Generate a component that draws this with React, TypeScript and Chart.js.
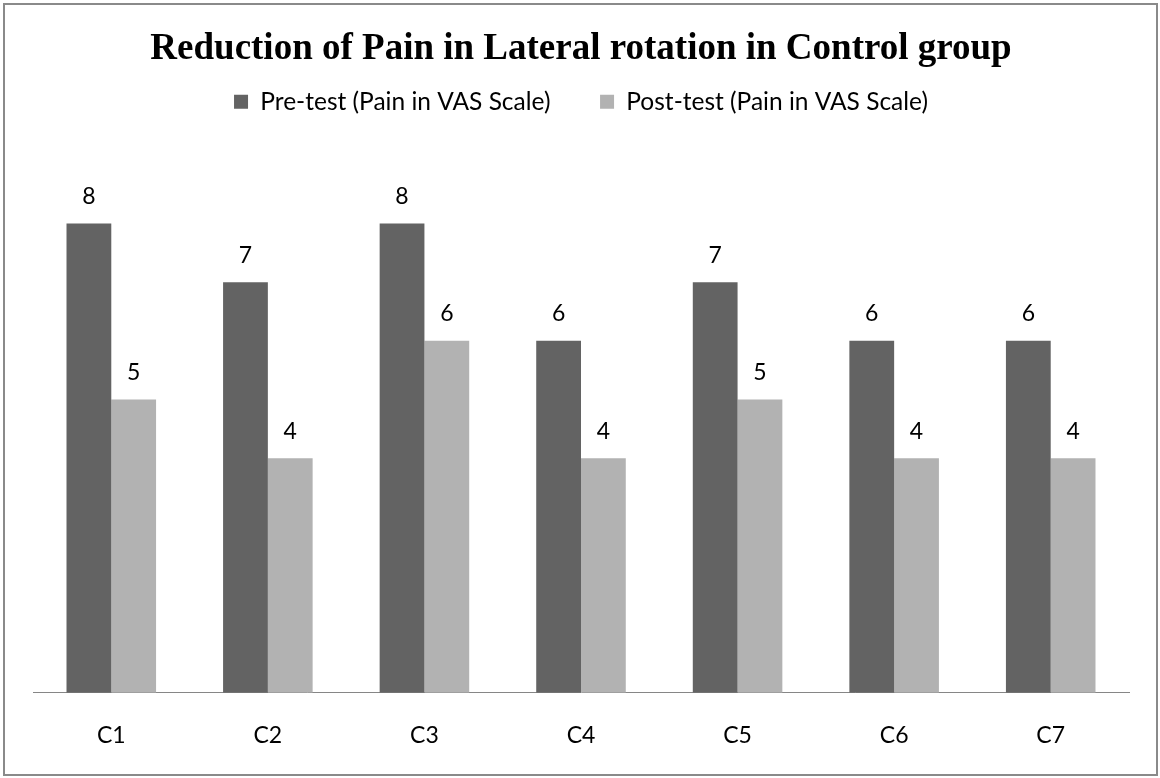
import React, { useEffect, useRef } from "react";
import { Chart, registerables } from "chart.js";

Chart.register(...registerables);

const categories = ["C1", "C2", "C3", "C4", "C5", "C6", "C7"];
const preTest = [8, 7, 8, 6, 7, 6, 6];
const postTest = [5, 4, 6, 4, 5, 4, 4];
const seriesLabels = ["Pre-test (Pain in VAS Scale)", "Post-test (Pain in VAS Scale)"];
const titleText = "Reduction of Pain in Lateral rotation in Control group";

const SANS = "Lato, 'Open Sans', sans-serif";

const valueLabels = {
  id: "valueLabels",
  afterDatasetsDraw(chart: any) {
    const ctx = chart.ctx;
    ctx.save();
    ctx.font = `23px ${SANS}`;
    ctx.fillStyle = "#000";
    ctx.textAlign = "center";
    ctx.textBaseline = "middle";
    chart.data.datasets.forEach((ds: any, i: number) => {
      const meta = chart.getDatasetMeta(i);
      meta.data.forEach((el: any, j: number) => {
        ctx.fillText(String(ds.data[j]), el.x, el.y - 27);
      });
    });
    ctx.restore();
  },
};

export default function App() {
  const ref = useRef<HTMLCanvasElement | null>(null);
  useEffect(() => {
    if (!ref.current) return;
    const chart = new Chart(ref.current, {
      type: "bar",
      data: {
        labels: categories,
        datasets: [
          {
            label: seriesLabels[0],
            data: preTest,
            backgroundColor: "#636363",
            borderWidth: 0,
          },
          {
            label: seriesLabels[1],
            data: postTest,
            backgroundColor: "#b2b2b2",
            borderWidth: 0,
          },
        ],
      },
      options: {
        responsive: false,
        animation: false,
        devicePixelRatio: 1,
        layout: { padding: { left: 33, right: 31, top: 0, bottom: 29 } },
        datasets: {
          bar: { categoryPercentage: 0.572, barPercentage: 1 },
        },
        plugins: {
          title: {
            display: true,
            text: titleText,
            color: "#000",
            font: { family: "'Liberation Serif', 'Times New Roman', serif", size: 37, weight: "bold", lineHeight: 1.2 },
            padding: { top: 27, bottom: 6 },
          },
          legend: {
            display: true,
            position: "top",
            labels: {
              color: "#000",
              font: { family: SANS, size: 24.5 },
              boxWidth: 14,
              boxHeight: 14,
              padding: 12,
              generateLabels(c: any) {
                const items = Chart.defaults.plugins.legend.labels.generateLabels(c);
                items.forEach((it: any, idx: number) => {
                  it.lineWidth = 0;
                  if (idx === 0) it.text = it.text + "      ";
                });
                return items;
              },
            },
          },
          tooltip: { enabled: false },
        },
        scales: {
          x: {
            grid: { display: false, drawTicks: false },
            border: { display: true, color: "#868686", width: 1 },
            ticks: { color: "#000", font: { family: SANS, size: 23 }, padding: 29 },
            afterFit(scale: any) {
              scale.height = 56.3;
            },
          },
          y: {
            display: false,
            min: 0,
            max: 9.7,
          },
        },
      },
      plugins: [valueLabels],
    });
    return () => chart.destroy();
  }, []);

  return (
    <div style={{ position: "absolute", left: 0, top: 0, width: 1160, height: 778, background: "#fff" }}>
      <canvas ref={ref} width={1160} height={778} style={{ display: "block" }} />
      <div
        style={{
          position: "absolute",
          left: 3,
          top: 3,
          width: 1155,
          height: 773,
          boxSizing: "border-box",
          border: "2px solid #8a8a8a",
          pointerEvents: "none",
        }}
      />
    </div>
  );
}
